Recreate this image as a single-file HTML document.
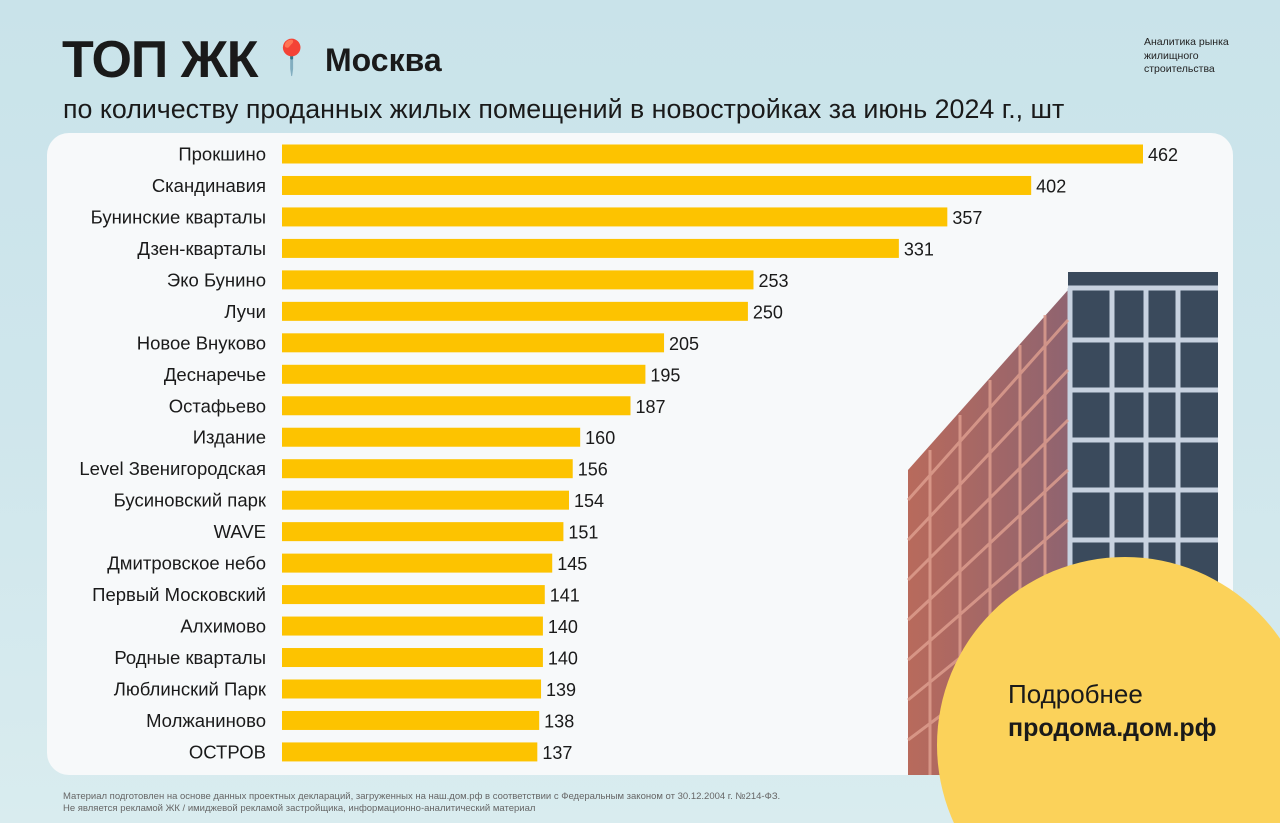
<!DOCTYPE html>
<html><head><meta charset="utf-8"><style>
html,body{margin:0;padding:0;width:1280px;height:823px;overflow:hidden}
body{position:relative;font-family:"Liberation Sans","DejaVu Sans",sans-serif;background:linear-gradient(180deg,#c9e3ea 0%,#cfe6ec 50%,#d9ecef 100%);}
.abs{position:absolute}
#card{left:47px;top:133px;width:1186px;height:642px;background:#f7f9fa;border-radius:22px}
#title{left:62px;top:30px;font-size:52px;font-weight:bold;color:#1a1a1a;letter-spacing:-1px}
#city{left:325px;top:42px;font-size:32px;font-weight:bold;color:#1a1a1a}
#sub{left:63px;top:94px;font-size:26.8px;color:#1a1a1a;white-space:nowrap}
#brand{left:1144px;top:36px;font-size:10.5px;line-height:13.5px;color:#222}
#foot{left:63px;top:791px;font-size:9.5px;line-height:12px;color:#666;white-space:nowrap}
#chart{left:0;top:0}
</style></head><body>
<div id="card" class="abs"></div>
<svg class="abs" style="left:0;top:0" width="1280" height="823">
<defs><linearGradient id="lf" x1="0" x2="1"><stop offset="0" stop-color="#b86a5c"/><stop offset="1" stop-color="#8f6470"/></linearGradient></defs>
<polygon points="908,470 1068,290 1068,775 908,775" fill="url(#lf)"/>
<polygon points="1068,272 1218,272 1218,775 1068,775" fill="#3a4a5c"/>
<g stroke="#c7d2e0" stroke-width="5">
<line x1="1068" y1="288" x2="1218" y2="288"/><line x1="1068" y1="340" x2="1218" y2="340"/><line x1="1068" y1="390" x2="1218" y2="390"/><line x1="1068" y1="440" x2="1218" y2="440"/><line x1="1068" y1="490" x2="1218" y2="490"/><line x1="1068" y1="540" x2="1218" y2="540"/>
<line x1="1112" y1="288" x2="1112" y2="775"/><line x1="1146" y1="288" x2="1146" y2="775"/><line x1="1178" y1="288" x2="1178" y2="775"/><line x1="1070" y1="288" x2="1070" y2="775"/></g>
<g stroke="#e0a090" stroke-width="3" opacity=".8">
<line x1="908" y1="500" x2="1068" y2="320"/><line x1="908" y1="540" x2="1068" y2="370"/><line x1="908" y1="580" x2="1068" y2="420"/><line x1="908" y1="620" x2="1068" y2="470"/><line x1="908" y1="660" x2="1068" y2="520"/><line x1="908" y1="700" x2="1068" y2="570"/><line x1="908" y1="740" x2="1068" y2="620"/>
<line x1="930" y1="450" x2="930" y2="775"/><line x1="960" y1="415" x2="960" y2="775"/><line x1="990" y1="380" x2="990" y2="775"/><line x1="1020" y1="345" x2="1020" y2="775"/><line x1="1045" y1="315" x2="1045" y2="775"/></g>
<circle cx="1125" cy="745" r="188" fill="#fbd25a"/>
</svg>
<div id="title" class="abs">ТОП ЖК <span style="font-size:34px;vertical-align:8px">📍</span></div>
<div id="city" class="abs">Москва</div>
<div id="sub" class="abs">по количеству проданных жилых помещений в новостройках за июнь 2024 г., шт</div>
<div id="brand" class="abs">Аналитика рынка<br>жилищного<br>строительства</div>
<div class="abs" style="left:1008px;top:679px;font-size:26px;color:#1a1a1a">Подробнее</div>
<div class="abs" style="left:1008px;top:714px;font-size:25px;font-weight:bold;color:#1a1a1a">продома.дом.рф</div>
<div id="foot" class="abs">Материал подготовлен на основе данных проектных деклараций, загруженных на наш.дом.рф в соответствии с Федеральным законом от 30.12.2004 г. №214-ФЗ.<br>Не является рекламой ЖК / имиджевой рекламой застройщика, информационно-аналитический материал</div>
<svg id="chart" class="abs" width="1280" height="823"></svg>
<script>
const categories=["Прокшино","Скандинавия","Бунинские кварталы","Дзен-кварталы","Эко Бунино","Лучи","Новое Внуково","Деснаречье","Остафьево","Издание","Level Звенигородская","Бусиновский парк","WAVE","Дмитровское небо","Первый Московский","Алхимово","Родные кварталы","Люблинский Парк","Молжаниново","ОСТРОВ"];
const values=[462,402,357,331,253,250,205,195,187,160,156,154,151,145,141,140,140,139,138,137];
const NS="http://www.w3.org/2000/svg";
const svg=document.getElementById('chart');
const x0=282,scale=(1143-282)/462;
function xs(v){return x0+v*scale;}
function ys(i){return 154+i*31.47;}
categories.forEach((c,i)=>{
  const y=ys(i);
  const r=document.createElementNS(NS,'rect');
  r.setAttribute('x',x0);r.setAttribute('y',y-9.5);r.setAttribute('width',xs(values[i])-x0);r.setAttribute('height',19);r.setAttribute('fill','#fdc300');
  
  
  svg.appendChild(r);
  const l=document.createElementNS(NS,'text');
  l.setAttribute('x',266);l.setAttribute('y',y+6.5);l.setAttribute('text-anchor','end');l.setAttribute('font-size','18.5');l.setAttribute('fill','#1a1a1a');
  l.textContent=c;
  
  
  svg.appendChild(l);
  const v=document.createElementNS(NS,'text');
  v.setAttribute('x',xs(values[i])+5);v.setAttribute('y',y+7);v.setAttribute('font-size','18');v.setAttribute('fill','#1a1a1a');
  v.textContent=values[i];
  
  
  svg.appendChild(v);
});
</script>
</body></html>
